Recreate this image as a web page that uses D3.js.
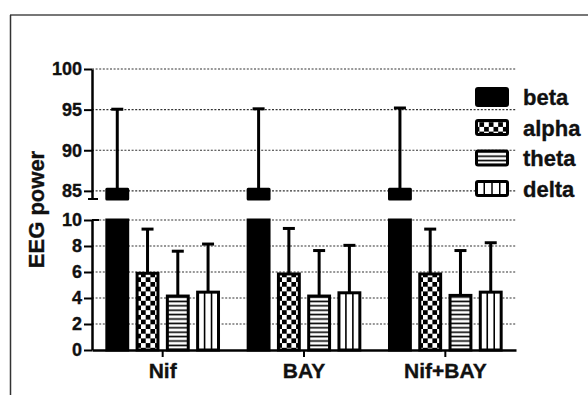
<!DOCTYPE html>
<html>
<head>
<meta charset="utf-8">
<script src="https://cdn.jsdelivr.net/npm/d3@7"></script>
<style>
  html, body { margin: 0; padding: 0; background: #fff; }
  svg { display: block; font-family: "Liberation Sans", Arial, Helvetica, sans-serif; }
  svg text { stroke: #111; stroke-width: 0.35px; }
</style>
</head>
<body>
<svg id="chart" width="588" height="395"></svg>
<script>
// ---- data ----
const groups = ["Nif", "BAY", "Nif+BAY"];
const series = ["beta", "alpha", "theta", "delta"];
const betaMean  = [85.2, 85.2, 85.2];
const betaSem   = [9.85, 9.9, 10.0];
const alphaMean = [5.9, 5.85, 5.85];
const alphaSem  = [3.4, 3.5, 3.45];
const thetaMean = [4.15, 4.15, 4.2];
const thetaSem  = [3.45, 3.5, 3.45];
const deltaMean = [4.45, 4.4, 4.45];
const deltaSem  = [3.7, 3.65, 3.8];
const upperTicks = [85, 90, 95, 100];
const lowerTicks = [0, 2, 4, 6, 8, 10];
const yTitle = "EEG power";

const means = { beta: betaMean, alpha: alphaMean, theta: thetaMean, delta: deltaMean };
const sems  = { beta: betaSem,  alpha: alphaSem,  theta: thetaSem,  delta: deltaSem };

const svg = d3.select("#chart");
const FONT_W = "bold";
const ink = "#111";

// frame
svg.append("line").attr("x1", 10).attr("x2", 588).attr("y1", 15).attr("y2", 15)
  .attr("stroke", "#777").attr("stroke-width", 2);
svg.append("line").attr("x1", 10.5).attr("x2", 10.5).attr("y1", 15).attr("y2", 395)
  .attr("stroke", "#333").attr("stroke-width", 1.5);

// patterns
const defs = svg.append("defs");
const chk = defs.append("pattern").attr("id", "pAlpha").attr("patternUnits", "userSpaceOnUse")
  .attr("width", 9.4).attr("height", 9.4);
chk.append("rect").attr("width", 9.4).attr("height", 9.4).attr("fill", "#fff");
chk.append("rect").attr("width", 4.7).attr("height", 4.7).attr("fill", "#000");
chk.append("rect").attr("x", 4.7).attr("y", 4.7).attr("width", 4.7).attr("height", 4.7).attr("fill", "#000");
const hz = defs.append("pattern").attr("id", "pTheta").attr("patternUnits", "userSpaceOnUse")
  .attr("width", 10).attr("height", 4.4);
hz.append("rect").attr("width", 10).attr("height", 4.4).attr("fill", "#fff");
hz.append("rect").attr("y", 1.4).attr("width", 10).attr("height", 1.6).attr("fill", "#000");

const fillFor = { beta: "#000", alpha: "url(#pAlpha)", theta: "url(#pTheta)", delta: "#fff" };

// scales
const x0 = d3.scaleBand().domain(groups).range([92, 516]).paddingInner(0).paddingOuter(0);
const x1 = d3.scaleBand().domain(series).range([0, x0.bandwidth()]).paddingInner(0.31).paddingOuter(0.49);
const yTop = d3.scaleLinear().domain([84, 100]).range([199, 69]);
const yBot = d3.scaleLinear().domain([0, 10]).range([350, 220]);

const xLeft = x0.range()[0], xRight = x0.range()[1];

// gridlines
const grid = svg.append("g");
upperTicks.forEach(t => grid.append("line").attr("x1", xLeft).attr("x2", xRight)
  .attr("y1", yTop(t)).attr("y2", yTop(t)));
lowerTicks.filter(t => t > 0).forEach(t => grid.append("line").attr("x1", xLeft).attr("x2", xRight)
  .attr("y1", yBot(t)).attr("y2", yBot(t)));
grid.selectAll("line").attr("stroke", "#333").attr("stroke-width", 1.1).attr("stroke-dasharray", "2,1.6");

// bars
const bars = svg.append("g");
const bw = x1.bandwidth();
groups.forEach((g, gi) => {
  series.forEach(s => {
    const bx = x0(g) + x1(s);
    const m = means[s][gi], e = sems[s][gi];
    const cx = bx + bw / 2;
    if (s === "beta") {
      bars.append("rect").attr("x", bx).attr("width", bw)
        .attr("y", yBot(10)).attr("height", yBot(0) - yBot(10))
        .attr("fill", "#000").attr("stroke", "#000").attr("stroke-width", 3);
      bars.append("line").attr("x1", cx).attr("x2", cx).attr("y1", yTop(m)).attr("y2", yTop(m + e))
        .attr("stroke", "#000").attr("stroke-width", 3);
      bars.append("line").attr("x1", cx - 6).attr("x2", cx + 6).attr("y1", yTop(m + e)).attr("y2", yTop(m + e))
        .attr("stroke", "#000").attr("stroke-width", 3);
      bars.append("rect").attr("x", bx).attr("width", bw)
        .attr("y", yTop(m)).attr("height", yTop(84) - yTop(m))
        .attr("fill", "#000").attr("stroke", "#000").attr("stroke-width", 3).attr("stroke-linejoin", "round");
    } else {
      bars.append("line").attr("x1", cx).attr("x2", cx).attr("y1", yBot(m)).attr("y2", yBot(m + e))
        .attr("stroke", "#000").attr("stroke-width", 3);
      bars.append("line").attr("x1", cx - 6).attr("x2", cx + 6).attr("y1", yBot(m + e)).attr("y2", yBot(m + e))
        .attr("stroke", "#000").attr("stroke-width", 3);
      bars.append("rect").attr("x", bx).attr("width", bw)
        .attr("y", yBot(m)).attr("height", yBot(0) - yBot(m))
        .attr("fill", fillFor[s]).attr("stroke", "#000").attr("stroke-width", 3);
      if (s === "delta") {
        [1 / 3, 2 / 3].forEach(f => bars.append("line")
          .attr("x1", bx + bw * f).attr("x2", bx + bw * f)
          .attr("y1", yBot(m)).attr("y2", yBot(0))
          .attr("stroke", "#000").attr("stroke-width", 1.6));
      }
    }
  });
});

// axes
function styleAxis(g, fs) {
  g.selectAll(".domain").attr("stroke", "#000").attr("stroke-width", 2.5);
  g.selectAll(".tick line").attr("stroke", "#000").attr("stroke-width", 2);
  g.selectAll(".tick text").attr("fill", ink).attr("font-size", fs).attr("font-weight", FONT_W)
    .attr("font-family", '"Liberation Sans", Arial, Helvetica, sans-serif');
}
const gTop = svg.append("g").attr("transform", `translate(${xLeft},0)`)
  .call(d3.axisLeft(yTop).tickValues(upperTicks).tickSize(8).tickPadding(2).tickSizeOuter(0));
styleAxis(gTop, 18);
const gBot = svg.append("g").attr("transform", `translate(${xLeft},0)`)
  .call(d3.axisLeft(yBot).tickValues(lowerTicks).tickSize(8).tickPadding(2).tickSizeOuter(0));
styleAxis(gBot, 18);
// break caps
svg.append("line").attr("x1", xLeft - 4).attr("x2", xLeft + 6).attr("y1", yTop(84)).attr("y2", yTop(84))
  .attr("stroke", "#000").attr("stroke-width", 2);
svg.append("line").attr("x1", xLeft).attr("x2", xLeft + 7).attr("y1", yBot(10)).attr("y2", yBot(10))
  .attr("stroke", "#000").attr("stroke-width", 2);

const gX = svg.append("g").attr("transform", `translate(0,${yBot(0)})`)
  .call(d3.axisBottom(x0).tickSize(7).tickPadding(6).tickSizeOuter(0));
styleAxis(gX, 21);

// y title
svg.append("text").attr("transform", `translate(44,${(yTop(100) + yBot(0)) / 2}) rotate(-90)`)
  .attr("text-anchor", "middle").attr("font-size", 22).attr("font-weight", FONT_W).attr("fill", ink)
  .text(yTitle);

// legend
const leg = svg.append("g");
const legY = d3.scalePoint().domain(series).range([97, 188.5]);
series.forEach(s => {
  const cy = legY(s);
  const h = s === "beta" ? 17 : 14;
  const lx = 476.5, lw = 31;
  leg.append("rect").attr("x", lx).attr("y", cy - h / 2).attr("width", lw).attr("height", h)
    .attr("fill", fillFor[s]).attr("stroke", "#000").attr("stroke-width", 3).attr("rx", 1.5);
  if (s === "delta") {
    [1, 2, 3].forEach(k => leg.append("line").attr("x1", lx + lw * k / 4).attr("x2", lx + lw * k / 4)
      .attr("y1", cy - h / 2).attr("y2", cy + h / 2).attr("stroke", "#000").attr("stroke-width", 1.5));
  }
  leg.append("text").attr("x", 523).attr("y", cy + 8).attr("font-size", 22)
    .attr("font-weight", FONT_W).attr("fill", ink).text(s);
});
</script>
</body>
</html>
